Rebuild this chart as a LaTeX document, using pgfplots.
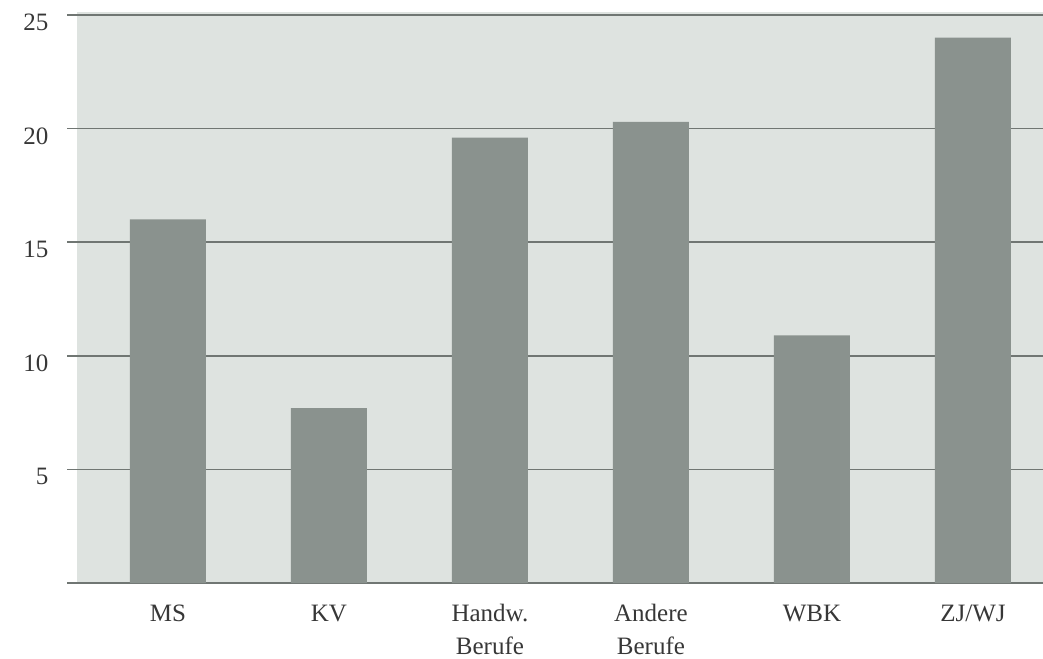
\documentclass[border=0pt]{standalone}
\usepackage{pgfplots}
\pgfplotsset{compat=1.18}
\usepackage{fontspec}
\setmainfont{Liberation Serif}
\definecolor{bg}{RGB}{222,227,224}
\definecolor{bar}{RGB}{138,146,142}
\definecolor{grid}{RGB}{112,118,115}
\definecolor{txt}{RGB}{55,55,55}
\begin{document}
\begin{tikzpicture}[x=1pt,y=1pt]
\useasboundingbox (-67,-75) rectangle (976,583);
\begin{axis}[
  at={(0,0)}, anchor=south west,
  scale only axis, width=976pt, height=568pt,
  xmin=-0.627, xmax=5.435, ymin=0, ymax=25,
  axis line style={draw=none},
  clip=false,
  major tick length=0pt,
  xtick={0,1,2,3,4,5},
  xticklabels={MS,KV,{Handw.\\Berufe},{Andere\\Berufe},WBK,ZJ/WJ},
  typeset ticklabels with strut,
  xticklabel style={align=center, font=\fontsize{25}{33}\selectfont, text=txt, yshift=-12pt},
  ytick={5,10,15,20,25},
  yticklabel style={font=\fontsize{25}{28}\selectfont, text=txt, yshift=-10pt, xshift=-15pt},
  /pgf/number format/assume math mode=true,
]
\fill[bg] (axis cs:-0.565,0) rectangle (axis cs:5.435,25.15);
\foreach \yy in {0,5,10,15,20,25}{
  \edef\tmp{\noexpand\draw[grid, line width=1.6pt] (axis cs:-0.627,\yy) -- (axis cs:5.435,\yy);}
  \tmp
}
\addplot[ybar, bar width=76pt, fill=bar, draw=none] coordinates {
  (0,16.0) (1,7.7) (2,19.6) (3,20.3) (4,10.9) (5,24.0)
};
\end{axis}
\end{tikzpicture}
\end{document}
